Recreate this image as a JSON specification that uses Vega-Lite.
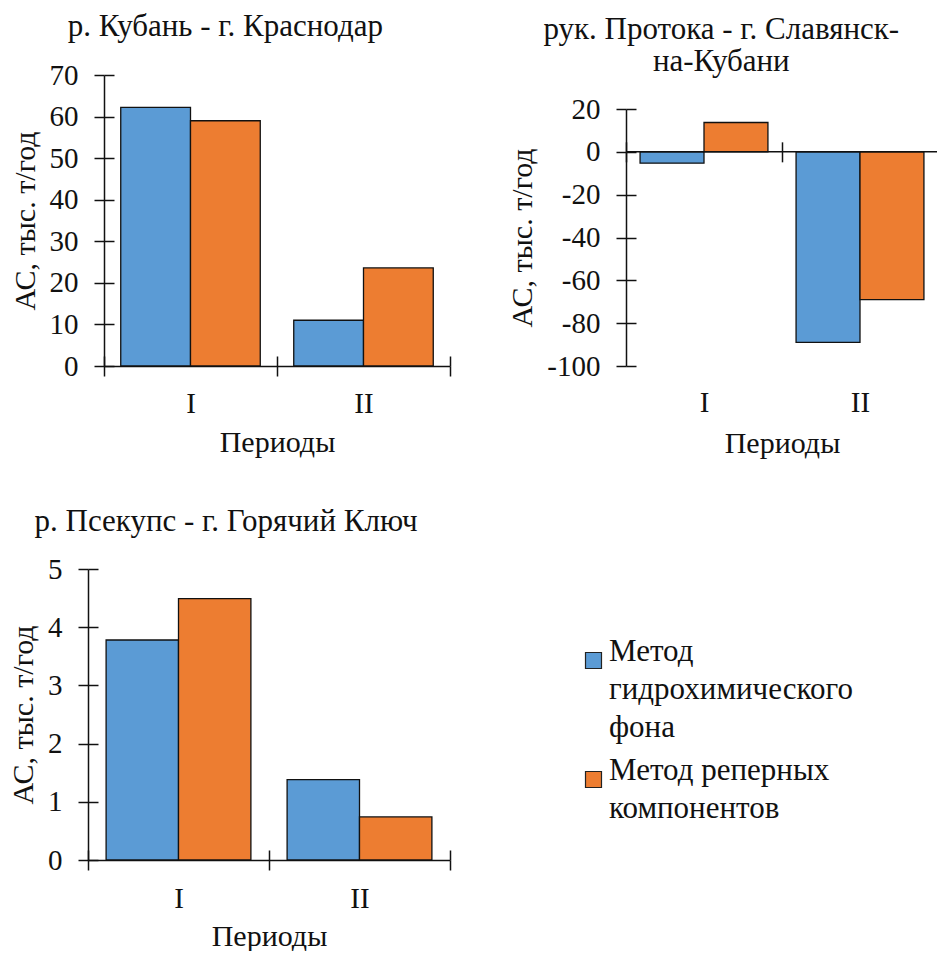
{
  "$schema": "https://vega.github.io/schema/vega-lite/v6.json",
  "padding": {"left": 8, "top": 11, "right": 0, "bottom": 0},
  "background": "white",
  "config": {
    "font": "Liberation Serif",
    "view": {"stroke": null},
    "axis": {
      "labelFont": "Liberation Serif", "titleFont": "Liberation Serif",
      "labelFontSize": 29, "titleFontSize": 30, "titleFontWeight": "normal",
      "labelColor": "#111", "titleColor": "#111",
      "domainColor": "#111", "tickColor": "#111", "domainWidth": 1.5, "tickWidth": 1.5,
      "tickSize": 10, "gridColor": "#111", "gridWidth": 1.5, "gridDash": [10, 3000], "gridOpacity": 1
    },
    "title": {"font": "Liberation Serif", "fontSize": 31, "fontWeight": "normal", "color": "#111", "anchor": "middle", "frame": "bounds", "offset": 17, "lineHeight": 31.5}
  },
  "datasets": {
    "kuban": [
      {"period": "I", "method": "Метод гидрохимического фона", "value": 62.2},
      {"period": "I", "method": "Метод реперных компонентов", "value": 59.0},
      {"period": "II", "method": "Метод гидрохимического фона", "value": 11.0},
      {"period": "II", "method": "Метод реперных компонентов", "value": 23.6}
    ],
    "protoka": [
      {"period": "I", "method": "Метод гидрохимического фона", "value": -5.3},
      {"period": "I", "method": "Метод реперных компонентов", "value": 13.7},
      {"period": "II", "method": "Метод гидрохимического фона", "value": -89},
      {"period": "II", "method": "Метод реперных компонентов", "value": -69}
    ],
    "psekups": [
      {"period": "I", "method": "Метод гидрохимического фона", "value": 3.78},
      {"period": "I", "method": "Метод реперных компонентов", "value": 4.49},
      {"period": "II", "method": "Метод гидрохимического фона", "value": 1.38},
      {"period": "II", "method": "Метод реперных компонентов", "value": 0.74}
    ]
  },
  "spacing": 47,
  "resolve": {"scale": {"xOffset": "independent", "x": "independent", "y": "independent"}},
  "vconcat": [
    {
      "spacing": 56,
      "resolve": {"scale": {"xOffset": "independent", "x": "independent", "y": "independent"}},
      "hconcat": [
        {
          "data": {"name": "kuban"},
          "title": {"text": "р. Кубань - г. Краснодар", "offset": 18, "dx": -5},
          "width": 362, "height": 291,
          "mark": {"type": "bar", "stroke": "#111", "strokeWidth": 1.3},
          "encoding": {
            "x": {"field": "period", "type": "nominal", "scale": {"paddingInner": 0, "paddingOuter": 0, "range": [16, 362]},
                  "axis": {"title": "Периоды", "labelAngle": 0, "tickBand": "extent", "grid": true, "gridDash": [0, 281, 10, 1000], "labelPadding": 13, "titlePadding": 9}},
            "xOffset": {"field": "method", "type": "nominal", "scale": {"paddingInner": 0, "paddingOuter": 0.24}},
            "y": {"field": "value", "type": "quantitative", "scale": {"domain": [0, 70], "nice": false},
                  "axis": {"title": "АС, тыс. т/год", "values": [0, 10, 20, 30, 40, 50, 60, 70], "offset": -16, "grid": true, "labelPadding": 16, "titlePadding": 9}},
            "color": {"field": "method", "type": "nominal",
                      "scale": {"domain": ["Метод гидрохимического фона", "Метод реперных компонентов"], "range": ["#5B9BD5", "#ED7D31"]}}
          }
        },
        {
          "data": {"name": "protoka"},
          "title": {"text": ["рук. Протока - г. Славянск-", "на-Кубани"], "offset": -2.5, "dx": -2},
          "width": 312, "height": 291,
          "layer": [
            {
              "mark": {"type": "bar", "stroke": "#111", "strokeWidth": 1.3},
              "encoding": {
                "x": {"field": "period", "type": "nominal", "scale": {"paddingInner": 0, "paddingOuter": 0},
                      "axis": {"title": "Периоды", "labelAngle": 0, "tickBand": "extent", "grid": false, "domain": false,
                               "tickSize": 20, "offset": -224.17, "labelPadding": 227, "titleY": 287, "titleBaseline": "top"}},
                "xOffset": {"field": "method", "type": "nominal", "scale": {"paddingInner": 0, "paddingOuter": 0.22}},
                "y": {"field": "value", "type": "quantitative", "scale": {"domain": [-100, 20], "nice": false, "range": [291, 34]},
                      "axis": {"title": "АС, тыс. т/год", "values": [-100, -80, -60, -40, -20, 0, 20], "grid": true, "labelPadding": 16, "titlePadding": 9, "labelExpr": "datum.value + ''"}},
                "color": {"field": "method", "type": "nominal",
                          "scale": {"domain": ["Метод гидрохимического фона", "Метод реперных компонентов"], "range": ["#5B9BD5", "#ED7D31"]}}
              }
            },
            {
              "data": {"values": [{"zero": 0}]},
              "mark": {"type": "rule", "stroke": "#111", "strokeWidth": 1.5},
              "encoding": {"y": {"field": "zero", "type": "quantitative"}}
            }
          ]
        }
      ]
    },
    {
      "data": {"name": "psekups"},
      "title": {"text": "р. Псекупс - г. Горячий Ключ", "frame": "group", "dx": -43},
      "width": 362, "height": 291,
      "mark": {"type": "bar", "stroke": "#111", "strokeWidth": 1.3},
      "encoding": {
        "x": {"field": "period", "type": "nominal", "scale": {"paddingInner": 0, "paddingOuter": 0},
              "axis": {"title": "Периоды", "labelAngle": 0, "tickBand": "extent", "grid": true, "gridDash": [0, 281, 10, 1000], "labelPadding": 14, "titlePadding": 8}},
        "xOffset": {"field": "method", "type": "nominal", "scale": {"paddingInner": 0, "paddingOuter": 0.25}},
        "y": {"field": "value", "type": "quantitative", "scale": {"domain": [0, 5], "nice": false},
              "axis": {"title": "АС, тыс. т/год", "values": [0, 1, 2, 3, 4, 5], "grid": true, "labelPadding": 16, "titlePadding": 9}},
        "color": {"field": "method", "type": "nominal",
                  "scale": {"domain": ["Метод гидрохимического фона", "Метод реперных компонентов"], "range": ["#5B9BD5", "#ED7D31"]},
                  "legend": {"title": null, "orient": "none", "legendX": 490, "legendY": 570, "padding": 0,
                             "symbolType": "square", "symbolSize": 256, "symbolStrokeColor": "#222", "symbolStrokeWidth": 1.2,
                             "labelFont": "Liberation Serif", "labelFontSize": 31, "labelColor": "#111", "labelLimit": 500,
                             "labelBaseline": "alphabetic", "labelOffset": 0, "rowPadding": 11,
                             "labelExpr": "datum.label == 'Метод гидрохимического фона' ? ['Метод', 'гидрохимического', 'фона'] : ['Метод реперных', 'компонентов']",
                             "encode": {"labels": {"update": {"lineHeight": {"value": 38}}}}}}
      }
    }
  ]
}
